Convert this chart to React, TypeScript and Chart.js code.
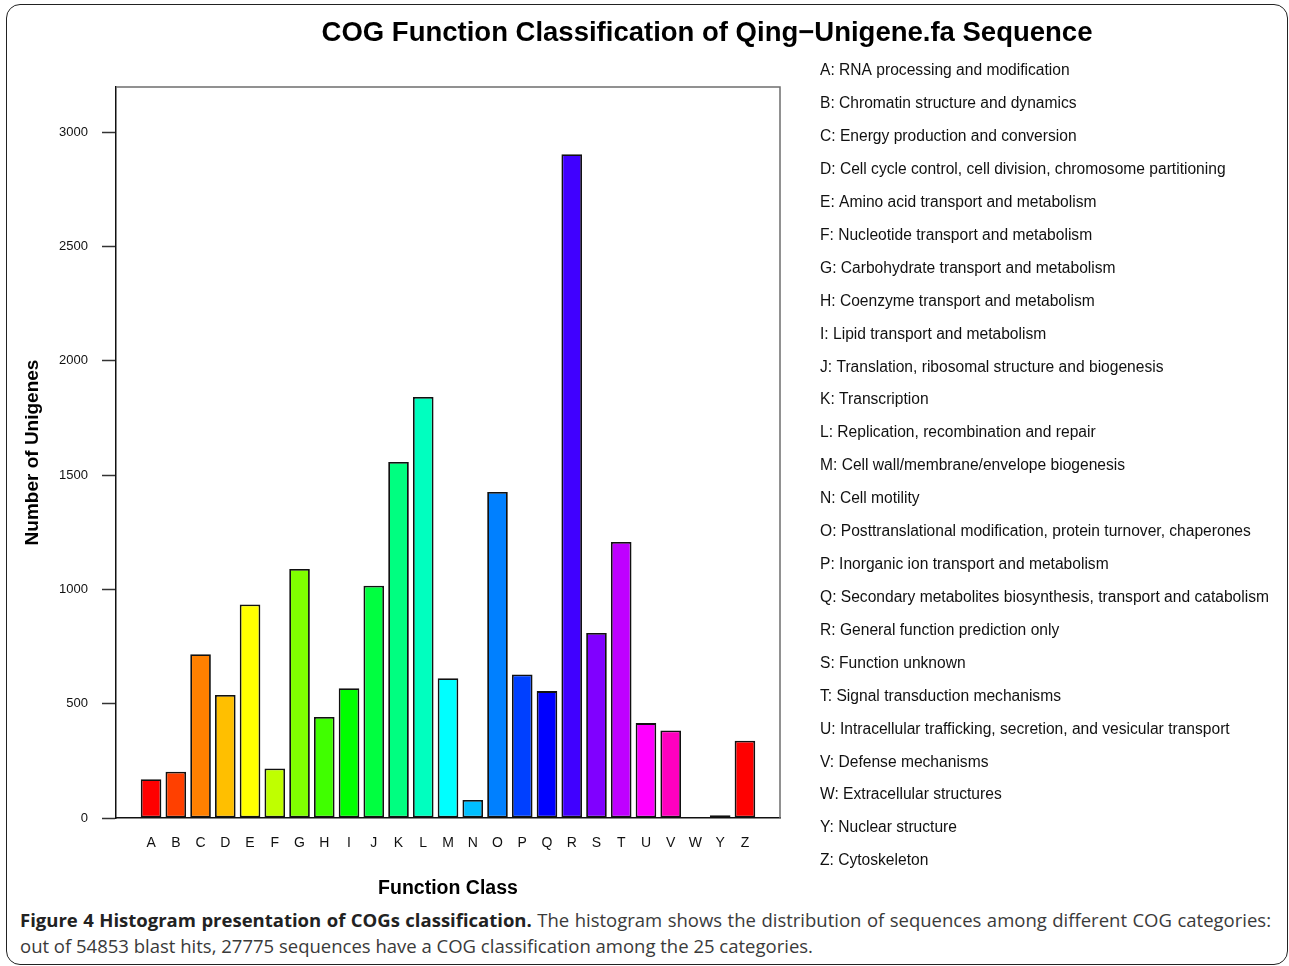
import React, { useEffect, useRef } from 'react';
import { Chart, registerables } from 'chart.js';

Chart.register(...registerables);

const categories = ['A', 'B', 'C', 'D', 'E', 'F', 'G', 'H', 'I', 'J', 'K', 'L', 'M', 'N', 'O', 'P', 'Q', 'R', 'S', 'T', 'U', 'V', 'W', 'Y', 'Z'];

const counts = [170, 202, 716, 538, 934, 217, 1089, 442, 568, 1016, 1557, 1841, 611, 79, 1426, 628, 555, 2903, 809, 1207, 415, 383, 3, 12, 338];

const barColors = [
  '#FF0000', '#FF4000', '#FF8000', '#FFBF00', '#FFFF00', '#BFFF00', '#80FF00', '#40FF00',
  '#00FF00', '#00FF40', '#00FF80', '#00FFBF', '#00FFFF', '#00BFFF', '#0080FF', '#0040FF',
  '#0000FF', '#4000FF', '#8000FF', '#BF00FF', '#FF00FF', '#FF00BF', '#FF0080', '#FF0040', '#FF0000',
];

const descriptions = [
  'A: RNA processing and modification',
  'B: Chromatin structure and dynamics',
  'C: Energy production and conversion',
  'D: Cell cycle control, cell division, chromosome partitioning',
  'E: Amino acid transport and metabolism',
  'F: Nucleotide transport and metabolism',
  'G: Carbohydrate transport and metabolism',
  'H: Coenzyme transport and metabolism',
  'I: Lipid transport and metabolism',
  'J: Translation, ribosomal structure and biogenesis',
  'K: Transcription',
  'L: Replication, recombination and repair',
  'M: Cell wall/membrane/envelope biogenesis',
  'N: Cell motility',
  'O: Posttranslational modification, protein turnover, chaperones',
  'P: Inorganic ion transport and metabolism',
  'Q: Secondary metabolites biosynthesis, transport and catabolism',
  'R: General function prediction only',
  'S: Function unknown',
  'T: Signal transduction mechanisms',
  'U: Intracellular trafficking, secretion, and vesicular transport',
  'V: Defense mechanisms',
  'W: Extracellular structures',
  'Y: Nuclear structure',
  'Z: Cytoskeleton',
];

const yTickValues = [0, 500, 1000, 1500, 2000, 2500, 3000];

const chartTitle = 'COG Function Classification of Qing\u2212Unigene.fa Sequence';
const xTitle = 'Function Class';
const yTitle = 'Number of Unigenes';
const captionBold = 'Figure 4 Histogram presentation of COGs classification.';
const captionLine1 = ' The histogram shows the distribution of sequences among different COG categories:';
const captionLine2 = 'out of 54853 blast hits, 27775 sequences have a COG classification among the 25 categories.';

const FONT = '"Liberation Sans", Arial, Helvetica, sans-serif';
const CW = 1289;
const CH = 900;

export default function App() {
  const canvasRef = useRef<HTMLCanvasElement>(null);

  useEffect(() => {
    const canvas = canvasRef.current;
    if (!canvas) return;

    const figurePlugin = {
      id: 'figureText',
      beforeDatasetsDraw(chart: any) {
        const { ctx, chartArea: a } = chart;
        ctx.save();
        ctx.strokeStyle = '#6e6e6e';
        ctx.lineWidth = 1.5;
        ctx.beginPath();
        ctx.moveTo(a.left, a.top);
        ctx.lineTo(a.right, a.top);
        ctx.lineTo(a.right, a.bottom);
        ctx.stroke();
        ctx.restore();
      },
      afterDraw(chart: any) {
        const { ctx } = chart;
        ctx.save();
        ctx.fillStyle = '#000';
        ctx.textAlign = 'center';
        ctx.textBaseline = 'middle';
        ctx.font = `bold 27.5px ${FONT}`;
        ctx.fillText(chartTitle, 707, 33);
        ctx.textAlign = 'left';
        ctx.font = `15.6px ${FONT}`;
        ctx.fillStyle = '#111';
        const y0 = 71;
        const y1 = 861;
        const step = (y1 - y0) / (descriptions.length - 1);
        descriptions.forEach((d, i) => {
          ctx.fillText(d, 820, y0 + i * step);
        });
        ctx.restore();
      },
    };

    const chart = new Chart(canvas, {
      type: 'bar',
      data: {
        datasets: [
          {
            data: counts.map((v, i) => ({ x: i, y: v })),
            backgroundColor: barColors,
            borderColor: '#111',
            borderWidth: 1.8,
            borderSkipped: false,
            categoryPercentage: 1,
            barPercentage: 0.833,
          } as any,
        ],
      },
      options: {
        responsive: false,
        animation: false,
        layout: { padding: { top: 87, right: CW - 780, left: 0, bottom: 0 } },
        plugins: {
          legend: { display: false },
          tooltip: { enabled: false },
          title: { display: false },
        },
        scales: {
          x: {
            type: 'linear',
            min: -1.417,
            max: 25.417,
            offset: false,
            afterFit: (s: any) => {
              s.height = CH - 818;
            },
            afterBuildTicks: (s: any) => {
              s.ticks = categories.map((_, i) => ({ value: i }));
            },
            ticks: {
              autoSkip: false,
              maxRotation: 0,
              padding: 17,
              color: '#111',
              font: { family: FONT, size: 14 },
              callback: (v: any) => categories[Math.round(Number(v))] ?? '',
            },
            grid: { display: true, drawOnChartArea: false, drawTicks: false },
            border: { display: true, color: '#111', width: 1.5 },
            title: {
              display: true,
              text: xTitle,
              color: '#000',
              font: { family: FONT, size: 19.5, weight: 'bold' },
              padding: { top: 0.5, bottom: 0 },
            },
          },
          y: {
            min: 0,
            max: 3197,
            afterFit: (s: any) => {
              s.width = 116;
            },
            afterBuildTicks: (s: any) => {
              s.ticks = yTickValues.map((v) => ({ value: v }));
            },
            ticks: {
              padding: 14,
              color: '#111',
              font: { family: FONT, size: 13 },
              callback: (v: any) => String(v),
            },
            grid: { display: true, drawOnChartArea: false, drawTicks: true, tickLength: 14, tickWidth: 1.5, tickColor: '#333' },
            border: { display: true, color: '#111', width: 1.5 },
            title: {
              display: true,
              text: yTitle,
              color: '#000',
              font: { family: FONT, size: 19, weight: 'bold' },
              padding: { top: 21.5, bottom: 0 },
            },
          },
        },
      } as any,
      plugins: [figurePlugin],
    });

    return () => chart.destroy();
  }, []);

  return (
    <div>
      <div
        style={{
          position: 'absolute',
          left: 6,
          top: 4,
          width: 1282,
          height: 961,
          boxSizing: 'border-box',
          border: '1.5px solid #222',
          borderRadius: 14,
        }}
      />
      <canvas
        ref={canvasRef}
        width={CW}
        height={CH}
        style={{ position: 'absolute', left: 0, top: 0, width: CW, height: CH }}
      />
      <div
        style={{
          position: 'absolute',
          left: 20,
          top: 907,
          width: 1251,
          fontFamily: '"Open Sans", sans-serif',
          fontSize: 18.5,
          lineHeight: '26px',
          color: '#3a3a3a',
        }}
      >
        <div style={{ whiteSpace: 'nowrap', textAlign: 'justify', textAlignLast: 'justify' } as any}>
          <b style={{ color: '#222' }}>{captionBold}</b>
          {captionLine1}
        </div>
        <div style={{ whiteSpace: 'nowrap' }}>{captionLine2}</div>
      </div>
    </div>
  );
}
